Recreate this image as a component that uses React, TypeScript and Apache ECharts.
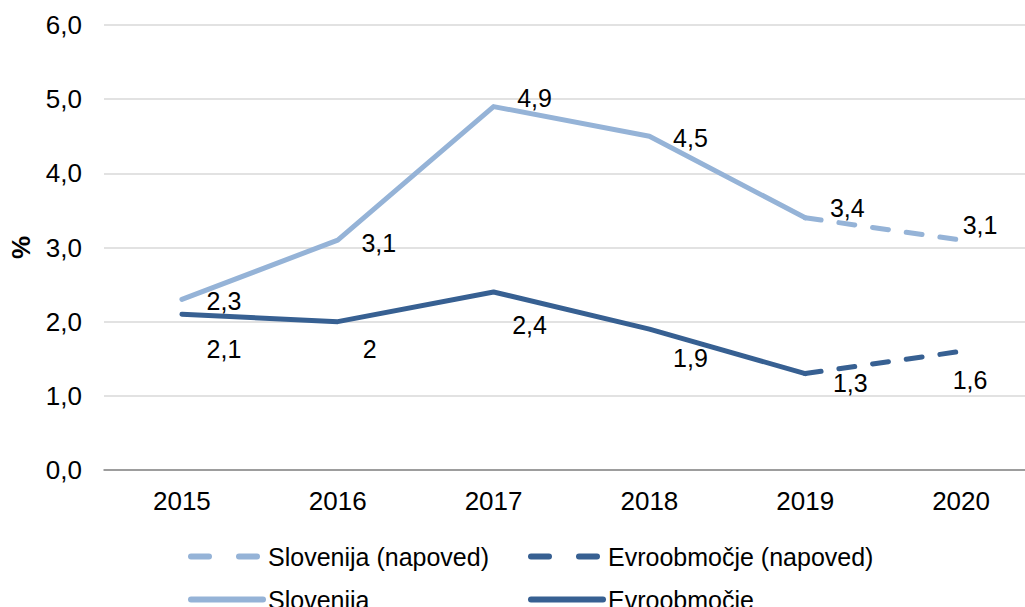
import React, { useEffect, useRef } from "react";
import * as echarts from "echarts";

const years = ["2015", "2016", "2017", "2018", "2019", "2020"];
const slovenija = [2.3, 3.1, 4.9, 4.5, 3.4, null];
const slovenijaNapoved = [null, null, null, null, 3.4, 3.1];
const evro = [2.1, 2.0, 2.4, 1.9, 1.3, null];
const evroNapoved = [null, null, null, null, 1.3, 1.6];

const slovOffsets = [[42, 2], [41, 3], [41, -9], [41, 2], [42, -10], [19, -15]];
const evroOffsets = [[42, 35], [32, 27], [36, 33], [41, 29], [45, 9], [9, 29]];

const LIGHT = "#95B3D7";
const DARK = "#376092";
const FONT = "Liberation Sans, Arial, sans-serif";

const fmt = (v: number) => (Number.isInteger(v) ? String(v) : v.toFixed(1).replace(".", ","));

function buildData(values: (number | null)[], offsets: number[][], showIdx: (i: number) => boolean) {
  return values.map((v, i) => {
    if (v === null) return null;
    return {
      value: v,
      label: {
        show: showIdx(i),
        position: "inside",
        offset: offsets[i],
      },
    };
  });
}

export default function App() {
  const ref = useRef<HTMLDivElement>(null);
  useEffect(() => {
    if (!ref.current) return;
    const chart = echarts.init(ref.current, undefined, { renderer: "svg" });
    const labelBase = {
      show: true,
      color: "#000",
      fontSize: 25,
      fontFamily: FONT,
      formatter: (p: any) => fmt(p.value),
    };
    const common = {
      type: "line",
      symbol: "circle",
      symbolSize: 1,
      showSymbol: true,
      itemStyle: { color: "rgba(0,0,0,0)" },
      connectNulls: false,
      z: 3,
    };
    const legendBase = {
      orient: "horizontal",
      itemWidth: 72,
      itemHeight: 14,
      itemGap: 6,
      selectedMode: false,
      textStyle: { fontSize: 25, fontFamily: FONT, color: "#000" },
    };
    const solidLegendLine = { width: 6, cap: "round", type: "solid" };
    const dashedLegendLine = { width: 6, cap: "round", type: [18, 30] };
    chart.setOption({
      animation: false,
      backgroundColor: "#fff",
      grid: { left: 103, top: 25, width: 936, height: 445 },
      legend: [
        { ...legendBase, lineStyle: dashedLegendLine, left: 183, top: 539, data: ["Slovenija (napoved)"] },
        { ...legendBase, lineStyle: dashedLegendLine, left: 523, top: 539, data: ["Evroobmočje (napoved)"] },
        { ...legendBase, lineStyle: solidLegendLine, left: 183, top: 582, data: ["Slovenija"] },
        { ...legendBase, lineStyle: solidLegendLine, left: 523, top: 582, data: ["Evroobmočje"] },
      ],
      xAxis: {
        type: "category",
        data: years,
        boundaryGap: true,
        axisLine: { lineStyle: { color: "#868686", width: 1.5 } },
        axisTick: { show: false },
        axisLabel: { fontSize: 26, fontFamily: FONT, color: "#000", margin: 18 },
      },
      yAxis: {
        type: "value",
        min: 0,
        max: 6,
        interval: 1,
        name: "%",
        nameLocation: "middle",
        nameRotate: 90,
        nameGap: 70,
        nameTextStyle: { fontSize: 26, fontWeight: "bold", fontFamily: FONT, color: "#000" },
        axisLine: { show: false },
        axisTick: { show: false },
        splitLine: { lineStyle: { color: "#D9D9D9", width: 1.5 } },
        axisLabel: {
          fontSize: 26,
          fontFamily: FONT,
          color: "#000",
          margin: 22,
          formatter: (v: number) => v.toFixed(1).replace(".", ","),
        },
      },
      series: [
        {
          ...common,
          name: "Slovenija (napoved)",
          data: buildData(slovenijaNapoved, slovOffsets, (i) => i === 5),
          lineStyle: { color: LIGHT, width: 5, type: [16, 18], cap: "round" },
          label: labelBase,
        },
        {
          ...common,
          name: "Evroobmočje (napoved)",
          data: buildData(evroNapoved, evroOffsets, (i) => i === 5),
          lineStyle: { color: DARK, width: 5, type: [16, 18], cap: "round" },
          label: labelBase,
        },
        {
          ...common,
          name: "Slovenija",
          data: buildData(slovenija, slovOffsets, () => true),
          lineStyle: { color: LIGHT, width: 5, cap: "round", join: "round" },
          label: labelBase,
        },
        {
          ...common,
          name: "Evroobmočje",
          data: buildData(evro, evroOffsets, () => true),
          lineStyle: { color: DARK, width: 5, cap: "round", join: "round" },
          label: labelBase,
        },
      ],
    });
    return () => chart.dispose();
  }, []);
  return (
    <div
      style={{ position: "absolute", left: 0, top: 0, width: 1025, height: 607, overflow: "hidden" }}
    >
      <div ref={ref} style={{ width: 1045, height: 607 }} />
    </div>
  );
}
